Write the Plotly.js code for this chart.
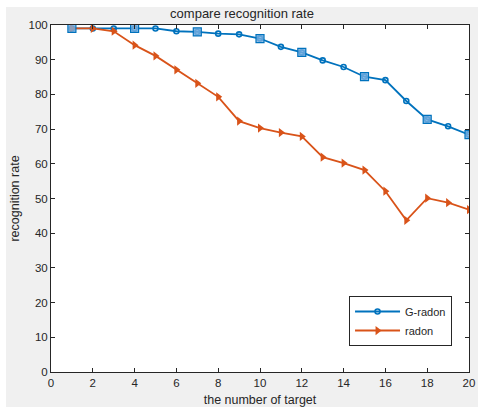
<!DOCTYPE html>
<html>
<head>
<meta charset="utf-8">
<script src="https://cdn.plot.ly/plotly-3.0.1.min.js"></script>
<style>
html,body{margin:0;padding:0;background:#ffffff;}
#chart{position:absolute;left:6px;top:7px;width:472px;height:400px;}
</style>
</head>
<body>
<div id="chart"></div>
<script>
var targets = [1,2,3,4,5,6,7,8,9,10,11,12,13,14,15,16,17,18,19,20];
var gRadon = [99,99,99,99,99,98.2,98,97.5,97.3,96.1,93.7,92.1,89.8,87.9,85.1,84.1,78.1,72.8,70.8,68.4];
var radon = [99,99,98.2,94.2,91.1,87.1,83.2,79.3,72.3,70.3,69.0,67.9,61.9,60.2,58.2,52.1,43.7,50.1,48.8,46.8];
var squareIdx = [0,3,6,9,11,14,17,19];
var xTicks = [0,2,4,6,8,10,12,14,16,18,20];
var yTicks = [0,10,20,30,40,50,60,70,80,90,100];

var sqX = squareIdx.map(function(i){return targets[i];});
var sqY = squareIdx.map(function(i){return gRadon[i];});

var traces = [
  {x: targets, y: gRadon, name: 'G-radon', type: 'scatter', mode: 'lines+markers',
   line: {color: '#0072BD', width: 1.8},
   marker: {symbol: 'circle-open', size: 5, color: '#0072BD', line: {width: 1.6, color: '#0072BD'}}},
  {x: targets, y: radon, name: 'radon', type: 'scatter', mode: 'lines+markers',
   line: {color: '#D95319', width: 1.8},
   marker: {symbol: 'triangle-right', size: 8, color: '#D95319'}},
  {x: sqX, y: sqY, name: 'G-radon', type: 'scatter', mode: 'markers', showlegend: false, hoverinfo: 'skip',
   marker: {symbol: 'square', size: 8, color: 'rgba(120,175,225,0.8)', line: {width: 1.2, color: '#0072BD'}}}
];

var axisCommon = {
  showgrid: false, zeroline: false, showline: true, mirror: 'ticks',
  linecolor: '#262626', linewidth: 1, ticks: 'inside', ticklen: 4, tickcolor: '#262626',
  tickfont: {family: 'Liberation Sans, Arial, sans-serif', size: 11.5, color: '#262626'}
};

var layout = {
  width: 472, height: 400,
  paper_bgcolor: '#f0f0f0', plot_bgcolor: '#ffffff',
  margin: {l: 45, r: 9, t: 18, b: 35},
  title: {text: 'compare recognition rate', x: 0.5, xanchor: 'center', yref: 'container', y: 0.985, yanchor: 'middle',
          font: {family: 'Liberation Sans, Arial, sans-serif', size: 13, color: '#262626'}},
  xaxis: Object.assign({}, axisCommon, {range: [0, 20], tickvals: xTicks,
    title: {text: 'the number of target', standoff: 9,
            font: {family: 'Liberation Sans, Arial, sans-serif', size: 12.5, color: '#262626'}}}),
  yaxis: Object.assign({}, axisCommon, {range: [0, 100], tickvals: yTicks,
    title: {text: 'recognition rate', standoff: 6,
            font: {family: 'Liberation Sans, Arial, sans-serif', size: 12.5, color: '#262626'}}}),
  legend: {x: 0.713, y: 0.219, xanchor: 'left', yanchor: 'top',
           bgcolor: '#ffffff', bordercolor: '#262626', borderwidth: 1,
           font: {family: 'Liberation Sans, Arial, sans-serif', size: 11, color: '#262626'},
           tracegroupgap: 0, itemwidth: 45},
  showlegend: true
};

Plotly.newPlot('chart', traces, layout, {displayModeBar: false, staticPlot: true});
</script>
</body>
</html>
